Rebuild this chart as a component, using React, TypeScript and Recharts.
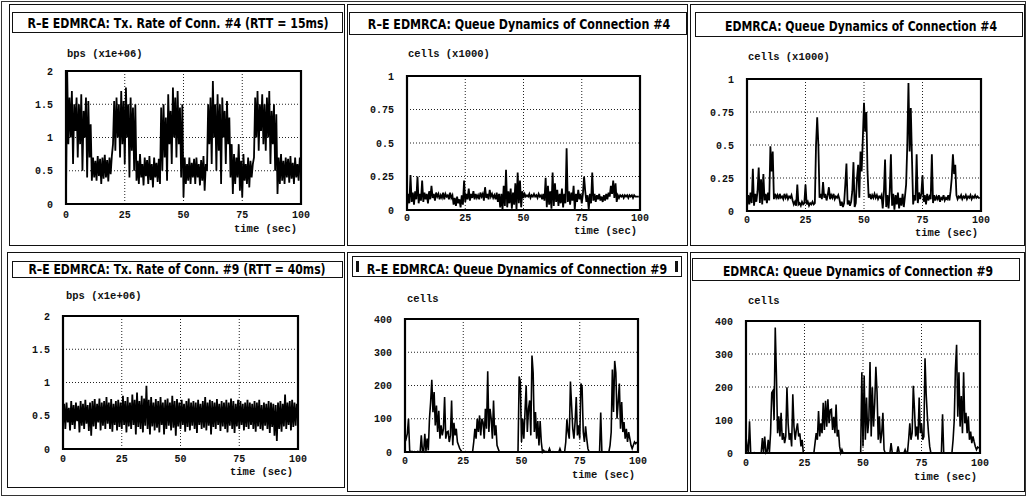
import React from 'react';
import { LineChart, Line, XAxis, YAxis, CartesianGrid, ReferenceArea } from 'recharts';

// ---------- data ----------
const TIME_STEP = 0.5; // seconds between samples
const X_TICKS = [0, 25, 50, 75, 100];
const RATE_TICKS = [0, 0.5, 1, 1.5, 2];
const KCELL_TICKS = [0, 0.25, 0.5, 0.75, 1];
const CELL_TICKS = [0, 100, 200, 300, 400];

// R-E EDMRCA: Tx rate of connection #4 (bps x1e+06)
const rateConn4 = [
  0.1, 2.0, 0.9, 1.6, 1.0, 1.7, 0.6, 1.5, 1.1, 1.6,
  0.7, 1.5, 0.9, 1.65, 0.5, 1.4, 1.0, 1.6, 0.4, 1.55,
  0.7, 1.2, 0.35, 0.7, 0.4, 0.65, 0.35, 0.72, 0.42, 0.68,
  0.3, 0.7, 0.38, 0.74, 0.4, 0.66, 0.34, 0.7, 0.45, 0.72,
  0.9, 1.55, 0.8, 1.6, 1.0, 1.5, 0.7, 1.7, 0.9, 1.55,
  0.6, 1.75, 1.0, 1.5, 0.4, 1.6, 0.8, 1.45, 0.5, 1.5,
  0.35, 0.65, 0.3, 0.75, 0.4, 0.6, 0.28, 0.7, 0.42, 0.66,
  0.3, 0.72, 0.36, 0.6, 0.25, 0.7, 0.4, 0.62, 0.33, 0.68,
  0.3, 1.45, 0.5, 1.5, 0.7, 1.3, 0.35, 1.65, 0.9, 1.4,
  0.6, 1.75, 1.0, 1.6, 0.7, 1.7, 0.9, 1.45, 0.4, 1.5,
  0.1, 0.7, 0.3, 0.6, 0.35, 0.7, 0.3, 0.62, 0.4, 0.68,
  0.3, 0.7, 0.4, 0.6, 0.28, 0.66, 0.35, 0.72, 0.2, 0.6,
  0.5, 1.5, 0.9, 1.6, 0.6, 1.85, 1.0, 1.5, 0.5, 1.65,
  0.8, 1.5, 0.3, 1.6, 1.0, 1.4, 0.6, 1.55, 0.9, 1.3,
  0.4, 0.9, 0.15, 0.75, 0.3, 0.7, 0.4, 0.9, 0.2, 0.65,
  0.1, 0.75, 0.35, 0.6, 0.3, 0.7, 0.25, 0.65, 0.4, 0.6,
  0.7, 1.6, 1.0, 1.7, 0.8, 1.5, 1.1, 1.65, 0.9, 1.5,
  0.8, 1.6, 1.0, 1.7, 0.6, 1.4, 0.9, 1.5, 0.5, 1.35,
  0.15, 0.7, 0.3, 0.75, 0.35, 0.65, 0.3, 0.7, 0.4, 0.68,
  0.32, 0.72, 0.38, 0.62, 0.3, 0.7, 0.4, 0.6, 0.35, 0.7,
];

// R-E EDMRCA: queue of connection #4 (cells x1000)
const queueReConn4 = [
  0.02, 0.12, 0.05, 0.26, 0.06, 0.13, 0.04, 0.14, 0.08, 0.25,
  0.05, 0.12, 0.07, 0.22, 0.06, 0.13, 0.08, 0.12, 0.05, 0.14,
  0.08, 0.18, 0.09, 0.12, 0.07, 0.13, 0.1, 0.12, 0.08, 0.11,
  0.09, 0.13, 0.08, 0.12, 0.1, 0.11, 0.08, 0.13, 0.09, 0.11,
  0.04, 0.09, 0.03, 0.1, 0.05, 0.08, 0.02, 0.11, 0.04, 0.22,
  0.06, 0.12, 0.08, 0.16, 0.07, 0.12, 0.09, 0.14, 0.08, 0.12,
  0.09, 0.11, 0.08, 0.13, 0.1, 0.12, 0.07, 0.17, 0.09, 0.12,
  0.08, 0.15, 0.1, 0.12, 0.09, 0.11, 0.08, 0.13, 0.06, 0.12,
  0.02, 0.12, 0.0, 0.18, 0.03, 0.3, 0.02, 0.14, 0.05, 0.16,
  0.01, 0.13, 0.04, 0.2, 0.0, 0.28, 0.05, 0.22, 0.02, 0.14,
  0.09, 0.12, 0.1, 0.11, 0.1, 0.12, 0.09, 0.11, 0.1, 0.12,
  0.1, 0.11, 0.09, 0.12, 0.1, 0.11, 0.08, 0.12, 0.07, 0.24,
  0.02, 0.18, 0.04, 0.14, 0.01, 0.28, 0.03, 0.2, 0.06, 0.15,
  0.03, 0.12, 0.05, 0.16, 0.02, 0.12, 0.05, 0.46, 0.06, 0.14,
  0.04, 0.13, 0.07, 0.18, 0.0, 0.12, 0.06, 0.15, 0.08, 0.12,
  0.05, 0.12, 0.25, 0.14, 0.06, 0.11, 0.0, 0.12, 0.05, 0.28,
  0.07, 0.12, 0.06, 0.11, 0.08, 0.12, 0.07, 0.1, 0.06, 0.11,
  0.07, 0.12, 0.08, 0.13, 0.1, 0.18, 0.12, 0.22, 0.09, 0.2,
  0.06, 0.11, 0.09, 0.11, 0.1, 0.11, 0.09, 0.11, 0.1, 0.11,
  0.09, 0.11, 0.1, 0.11, 0.09, 0.11, 0.1, 0.1, 0.1, 0.1,
];

// EDMRCA: queue of connection #4 (cells x1000)
const queueEdConn4 = [
  0.03, 0.12, 0.05, 0.14, 0.06, 0.32, 0.04, 0.13, 0.07, 0.15,
  0.33, 0.06, 0.24, 0.05, 0.28, 0.08, 0.13, 0.06, 0.14, 0.08,
  0.49, 0.3, 0.45, 0.09, 0.13, 0.1, 0.12, 0.09, 0.13, 0.1,
  0.11, 0.09, 0.13, 0.1, 0.12, 0.09, 0.11, 0.1, 0.12, 0.08,
  0.05, 0.07, 0.04, 0.2, 0.05, 0.06, 0.04, 0.07, 0.05, 0.06,
  0.2, 0.05, 0.07, 0.04, 0.06, 0.05, 0.07, 0.05, 0.06, 0.5,
  0.71, 0.5, 0.1, 0.13, 0.09, 0.22, 0.1, 0.13, 0.08, 0.12,
  0.18, 0.09, 0.12, 0.1, 0.13, 0.09, 0.11, 0.1, 0.12, 0.09,
  0.04, 0.07, 0.03, 0.06, 0.2, 0.36, 0.05, 0.08, 0.04, 0.07,
  0.15, 0.37, 0.03, 0.06, 0.25, 0.35, 0.1, 0.45, 0.3, 0.55,
  0.82, 0.6, 0.75, 0.3, 0.1, 0.13, 0.09, 0.12, 0.1, 0.13,
  0.1, 0.12, 0.09, 0.11, 0.1, 0.12, 0.02, 0.14, 0.39, 0.03,
  0.12, 0.02, 0.15, 0.43, 0.04, 0.13, 0.01, 0.12, 0.05, 0.14,
  0.02, 0.1, 0.04, 0.13, 0.03, 0.11, 0.2, 0.5, 0.97, 0.45,
  0.78, 0.4, 0.05, 0.12, 0.08, 0.43, 0.06, 0.14, 0.09, 0.13,
  0.27, 0.07, 0.12, 0.05, 0.13, 0.08, 0.11, 0.09, 0.43, 0.06,
  0.12, 0.08, 0.11, 0.09, 0.12, 0.07, 0.1, 0.09, 0.12, 0.08,
  0.1, 0.09, 0.12, 0.08, 0.15, 0.25, 0.43, 0.28, 0.35, 0.12,
  0.09, 0.11, 0.1, 0.12, 0.09, 0.11, 0.1, 0.12, 0.09, 0.11,
  0.1, 0.12, 0.09, 0.11, 0.1, 0.12, 0.1, 0.11, 0.1, 0.1,
];

// R-E EDMRCA: Tx rate of connection #9 (bps x1e+06)
const rateConn9 = [
  0.35, 0.68, 0.3, 0.7, 0.4, 0.62, 0.28, 0.72, 0.36, 0.66,
  0.3, 0.7, 0.42, 0.65, 0.25, 0.72, 0.35, 0.68, 0.3, 0.74,
  0.38, 0.66, 0.27, 0.7, 0.2, 0.72, 0.34, 0.75, 0.3, 0.68,
  0.4, 0.76, 0.28, 0.7, 0.35, 0.72, 0.3, 0.78, 0.38, 0.7,
  0.3, 0.75, 0.26, 0.68, 0.36, 0.72, 0.28, 0.74, 0.33, 0.7,
  0.3, 0.8, 0.36, 0.72, 0.25, 0.78, 0.34, 0.7, 0.3, 0.82,
  0.36, 0.74, 0.22, 0.85, 0.33, 0.72, 0.3, 0.8, 0.25, 0.76,
  0.35, 0.95, 0.3, 0.74, 0.22, 0.78, 0.34, 0.7, 0.28, 0.75,
  0.32, 0.72, 0.25, 0.78, 0.36, 0.7, 0.22, 0.74, 0.3, 0.76,
  0.35, 0.7, 0.28, 0.8, 0.32, 0.72, 0.2, 0.75, 0.34, 0.7,
  0.3, 0.74, 0.36, 0.68, 0.26, 0.72, 0.33, 0.76, 0.28, 0.7,
  0.35, 0.72, 0.3, 0.7, 0.24, 0.74, 0.36, 0.68, 0.3, 0.72,
  0.32, 0.78, 0.28, 0.7, 0.35, 0.74, 0.22, 0.72, 0.33, 0.7,
  0.3, 0.75, 0.36, 0.68, 0.27, 0.72, 0.34, 0.7, 0.3, 0.74,
  0.25, 0.7, 0.35, 0.76, 0.3, 0.72, 0.24, 0.68, 0.34, 0.74,
  0.3, 0.72, 0.36, 0.68, 0.28, 0.7, 0.33, 0.74, 0.3, 0.7,
  0.36, 0.68, 0.3, 0.72, 0.26, 0.7, 0.34, 0.74, 0.3, 0.66,
  0.28, 0.7, 0.35, 0.68, 0.3, 0.72, 0.24, 0.7, 0.33, 0.68,
  0.2, 0.66, 0.12, 0.7, 0.3, 0.72, 0.26, 0.68, 0.34, 0.82,
  0.3, 0.7, 0.36, 0.72, 0.28, 0.74, 0.33, 0.7, 0.35, 0.68,
];

// R-E EDMRCA: queue of connection #9 (cells)
const queueReConn9 = [
  50, 40, 55, 100, 5, 0, 2, 0, 1, 0,
  0, 2, 0, 0, 50, 2, 0, 55, 3, 40,
  5, 100, 150, 217, 120, 180, 80, 140, 60, 124,
  40, 80, 50, 70, 165, 40, 60, 62, 30, 50,
  155, 20, 88, 50, 70, 30, 20, 10, 5, 0,
  0, 0, 1, 0, 0, 0, 0, 0, 0, 30,
  70, 40, 100, 60, 110, 50, 100, 90, 40, 130,
  70, 243, 60, 130, 100, 40, 155, 50, 80, 20,
  10, 0, 0, 0, 0, 0, 0, 0, 0, 0,
  0, 0, 0, 0, 0, 0, 0, 0, 227, 212,
  30, 100, 40, 120, 200, 60, 130, 155, 50, 290,
  238, 60, 120, 40, 93, 20, 93, 30, 0, 5,
  0, 2, 0, 0, 10, 0, 0, 1, 0, 0,
  0, 0, 0, 10, 0, 0, 0, 0, 30, 98,
  60, 40, 212, 140, 70, 40, 90, 165, 50, 80,
  40, 206, 196, 60, 30, 77, 40, 10, 0, 0,
  0, 0, 0, 0, 0, 0, 0, 0, 119, 0,
  0, 0, 0, 0, 0, 0, 20, 60, 248, 120,
  274, 238, 100, 150, 206, 70, 150, 60, 90, 40,
  70, 30, 60, 40, 20, 10, 20, 30, 25, 30,
];

// EDMRCA: queue of connection #9 (cells)
const queueEdConn9 = [
  50, 20, 0, 96, 2, 0, 0, 1, 0, 0,
  0, 0, 0, 0, 45, 2, 50, 0, 3, 40,
  2, 60, 183, 189, 100, 380, 235, 60, 111, 50,
  122, 40, 60, 30, 50, 199, 90, 40, 60, 20,
  178, 80, 40, 70, 90, 50, 60, 20, 40, 0,
  0, 0, 0, 0, 0, 0, 0, 0, 0, 30,
  60, 40, 127, 50, 90, 60, 152, 70, 158, 80,
  163, 90, 130, 132, 70, 110, 60, 147, 50, 70,
  20, 0, 10, 0, 0, 0, 0, 0, 0, 0,
  0, 0, 0, 0, 0, 0, 0, 0, 0, 245,
  20, 235, 40, 168, 60, 100, 276, 50, 199, 80,
  150, 261, 184, 40, 111, 30, 60, 122, 10, 0,
  0, 0, 0, 0, 30, 0, 0, 0, 0, 0,
  20, 0, 0, 0, 0, 0, 10, 0, 0, 40,
  90, 40, 60, 204, 132, 50, 80, 40, 168, 60,
  90, 40, 50, 287, 178, 111, 60, 20, 0, 0,
  0, 0, 0, 0, 0, 0, 0, 0, 117, 0,
  0, 0, 0, 0, 0, 0, 0, 40, 100, 256,
  328, 110, 245, 80, 173, 60, 245, 90, 122, 60,
  111, 40, 65, 30, 50, 34, 20, 10, 18, 15,
];

const toRows = (vals: number[]) => vals.map((v, i) => ({ t: i * TIME_STEP, v }));

// ---------- layout ----------
type Rect = { x: number; y: number; w: number; h: number };
type PanelCfg = {
  frame: Rect;
  titleBox: Rect;
  title: string;
  titleCx: number;
  titleBase: number;
  titleLen: number;
  marks?: boolean;
  plot: Rect;
  values: number[];
  yMax: number;
  yTicks: number[];
  yLabel: string;
  yLabelPos: { x: number; y: number };
  xLabelPos: { x: number; y: number };
  xTickMargin: number;
  lineWidth: number;
};

const PANELS: PanelCfg[] = [
  {
    frame: { x: 9, y: 4, w: 336, h: 242 },
    titleBox: { x: 12, y: 12, w: 331, h: 21 },
    title: 'R\u2013E EDMRCA: Tx. Rate of Conn. #4 (RTT = 15ms)',
    titleCx: 177.5, titleBase: 27.5, titleLen: 301,
    plot: { x: 66, y: 71, w: 235, h: 133 },
    values: rateConn4, yMax: 2, yTicks: RATE_TICKS, yLabel: 'bps (x1e+06)',
    yLabelPos: { x: 67, y: 54 }, xLabelPos: { x: 297, y: 229 }, xTickMargin: 1, lineWidth: 1.8,
  },
  {
    frame: { x: 347, y: 4, w: 341, h: 242 },
    titleBox: { x: 349, y: 12, w: 338, h: 23 },
    title: 'R\u2013E EDMRCA: Queue Dynamics of Connection #4',
    titleCx: 519, titleBase: 29, titleLen: 302,
    plot: { x: 407, y: 76, w: 233, h: 134 },
    values: queueReConn4, yMax: 1, yTicks: KCELL_TICKS, yLabel: 'cells (x1000)',
    yLabelPos: { x: 408, y: 54 }, xLabelPos: { x: 637, y: 231 }, xTickMargin: -2, lineWidth: 1.8,
  },
  {
    frame: { x: 690, y: 4, w: 335, h: 242 },
    titleBox: { x: 695, y: 12, w: 328, h: 25 },
    title: 'EDMRCA: Queue Dynamics of Connection #4',
    titleCx: 861, titleBase: 30.5, titleLen: 272,
    plot: { x: 747, y: 79, w: 234, h: 132 },
    values: queueEdConn4, yMax: 1, yTicks: KCELL_TICKS, yLabel: 'cells (x1000)',
    yLabelPos: { x: 748, y: 57 }, xLabelPos: { x: 978, y: 233 }, xTickMargin: -1, lineWidth: 1.8,
  },
  {
    frame: { x: 7, y: 252, w: 338, h: 236 },
    titleBox: { x: 12, y: 261, w: 331, h: 17 },
    title: 'R\u2013E EDMRCA: Tx. Rate of Conn. #9 (RTT = 40ms)',
    titleCx: 176.5, titleBase: 274, titleLen: 297,
    plot: { x: 63, y: 316, w: 235, h: 133 },
    values: rateConn9, yMax: 2, yTicks: RATE_TICKS, yLabel: 'bps (x1e+06)',
    yLabelPos: { x: 66, y: 296 }, xLabelPos: { x: 293, y: 472 }, xTickMargin: 0, lineWidth: 1.8,
  },
  {
    frame: { x: 347, y: 252, w: 341, h: 240 },
    titleBox: { x: 352, y: 256, w: 330, h: 21 },
    title: 'R\u2013E EDMRCA: Queue Dynamics of Connection #9',
    titleCx: 517, titleBase: 274, titleLen: 300, marks: true,
    plot: { x: 405, y: 319, w: 233, h: 133 },
    values: queueReConn9, yMax: 400, yTicks: CELL_TICKS, yLabel: 'cells',
    yLabelPos: { x: 407, y: 299 }, xLabelPos: { x: 635, y: 475 }, xTickMargin: -1, lineWidth: 1.6,
  },
  {
    frame: { x: 690, y: 252, w: 335, h: 240 },
    titleBox: { x: 692, y: 258, w: 328, h: 23 },
    title: 'EDMRCA: Queue Dynamics of Connection #9',
    titleCx: 858, titleBase: 275.5, titleLen: 270,
    plot: { x: 746, y: 321, w: 234, h: 132 },
    values: queueEdConn9, yMax: 400, yTicks: CELL_TICKS, yLabel: 'cells',
    yLabelPos: { x: 748, y: 301 }, xLabelPos: { x: 977, y: 477 }, xTickMargin: 0, lineWidth: 1.6,
  },
];

const MONO = '"Liberation Mono", "DejaVu Sans Mono", monospace';
const SANS = '"DejaVu Sans", "Liberation Sans", Arial, sans-serif';

const ML = 50;
const MT = 8;
const MR = 18;
const MB = 22;

function Title({ text, cx, base, len }: { text: string; cx: number; base: number; len: number }) {
  const ref = React.useRef<HTMLSpanElement>(null);
  const [k, setK] = React.useState(0.85);
  React.useLayoutEffect(() => {
    const el = ref.current;
    if (el) {
      const w = el.offsetWidth;
      if (w > 0) setK(len / w);
    }
  }, [len, text]);
  return (
    <span
      ref={ref}
      style={{
        position: 'absolute', left: cx, top: base - 12, whiteSpace: 'nowrap', lineHeight: 1,
        fontFamily: SANS, fontWeight: 700, fontSize: 14, color: '#000',
        transform: `translateX(-50%) scaleX(${k})`, transformOrigin: '50% 50%',
      }}
    >
      {text}
    </span>
  );
}

function Panel({ cfg }: { cfg: PanelCfg }) {
  const { frame, titleBox: tb, plot } = cfg;
  const rows = toRows(cfg.values);
  const tickStyle = { fontFamily: MONO, fontSize: 10, fontWeight: 700, fill: '#111' };
  return (
    <>
      <div
        style={{
          position: 'absolute', left: frame.x, top: frame.y, width: frame.w, height: frame.h,
          border: '1.5px solid #111', boxSizing: 'border-box',
        }}
      />
      <div
        style={{
          position: 'absolute', left: tb.x, top: tb.y, width: tb.w, height: tb.h,
          border: '1.4px solid #111', boxSizing: 'border-box', background: '#fff',
        }}
      >
        {cfg.marks ? (
          <>
            <div style={{ position: 'absolute', left: 3, top: 4, width: 3, height: 11, background: '#111' }} />
            <div style={{ position: 'absolute', right: 3, top: 4, width: 3, height: 11, background: '#111' }} />
          </>
        ) : null}
      </div>
      <Title text={cfg.title} cx={cfg.titleCx} base={cfg.titleBase} len={cfg.titleLen} />
      <div
        style={{
          position: 'absolute', left: cfg.yLabelPos.x, top: cfg.yLabelPos.y, transform: 'translateY(-50%)',
          fontFamily: MONO, fontSize: 10.5, fontWeight: 700, color: '#111', whiteSpace: 'pre', lineHeight: 1,
        }}
      >
        {cfg.yLabel}
      </div>
      <div
        style={{
          position: 'absolute', left: cfg.xLabelPos.x, top: cfg.xLabelPos.y, transform: 'translate(-100%, -50%)',
          fontFamily: MONO, fontSize: 10.5, fontWeight: 700, color: '#111', whiteSpace: 'pre', lineHeight: 1,
        }}
      >
        time (sec)
      </div>
      <div style={{ position: 'absolute', left: plot.x - ML, top: plot.y - MT }}>
        <LineChart
          width={plot.w + ML + MR}
          height={plot.h + MT + MB}
          data={rows}
          margin={{ top: MT, right: MR, left: 0, bottom: 0 }}
        >
          <CartesianGrid stroke="#222" strokeDasharray="1 2" strokeWidth={1} />
          <XAxis
            dataKey="t" type="number" domain={[0, 100]} ticks={X_TICKS} interval={0}
            height={MB} tickLine={false} axisLine={false} tickMargin={cfg.xTickMargin} tick={tickStyle}
          />
          <YAxis
            type="number" domain={[0, cfg.yMax]} ticks={cfg.yTicks} interval={0}
            width={ML} tickLine={false} axisLine={false} tickMargin={7} tick={tickStyle}
          />
          <ReferenceArea
            x1={0} x2={100} y1={0} y2={cfg.yMax} fill="none" stroke="#000" strokeWidth={2.2}
            ifOverflow="visible"
          />
          <Line
            type="linear" dataKey="v" stroke="#000" strokeWidth={cfg.lineWidth} dot={false}
            isAnimationActive={false}
          />
        </LineChart>
      </div>
    </>
  );
}

export default function App() {
  return (
    <div
      style={{
        position: 'absolute', left: 0, top: 0, width: 1027, height: 497, background: '#fff', overflow: 'hidden',
      }}
    >
      <div
        style={{
          position: 'absolute', left: 1, top: 1, width: 1025, height: 495, border: '1px solid #333',
          boxSizing: 'border-box',
        }}
      />
      {PANELS.map((p, i) => (
        <Panel key={i} cfg={p} />
      ))}
    </div>
  );
}
